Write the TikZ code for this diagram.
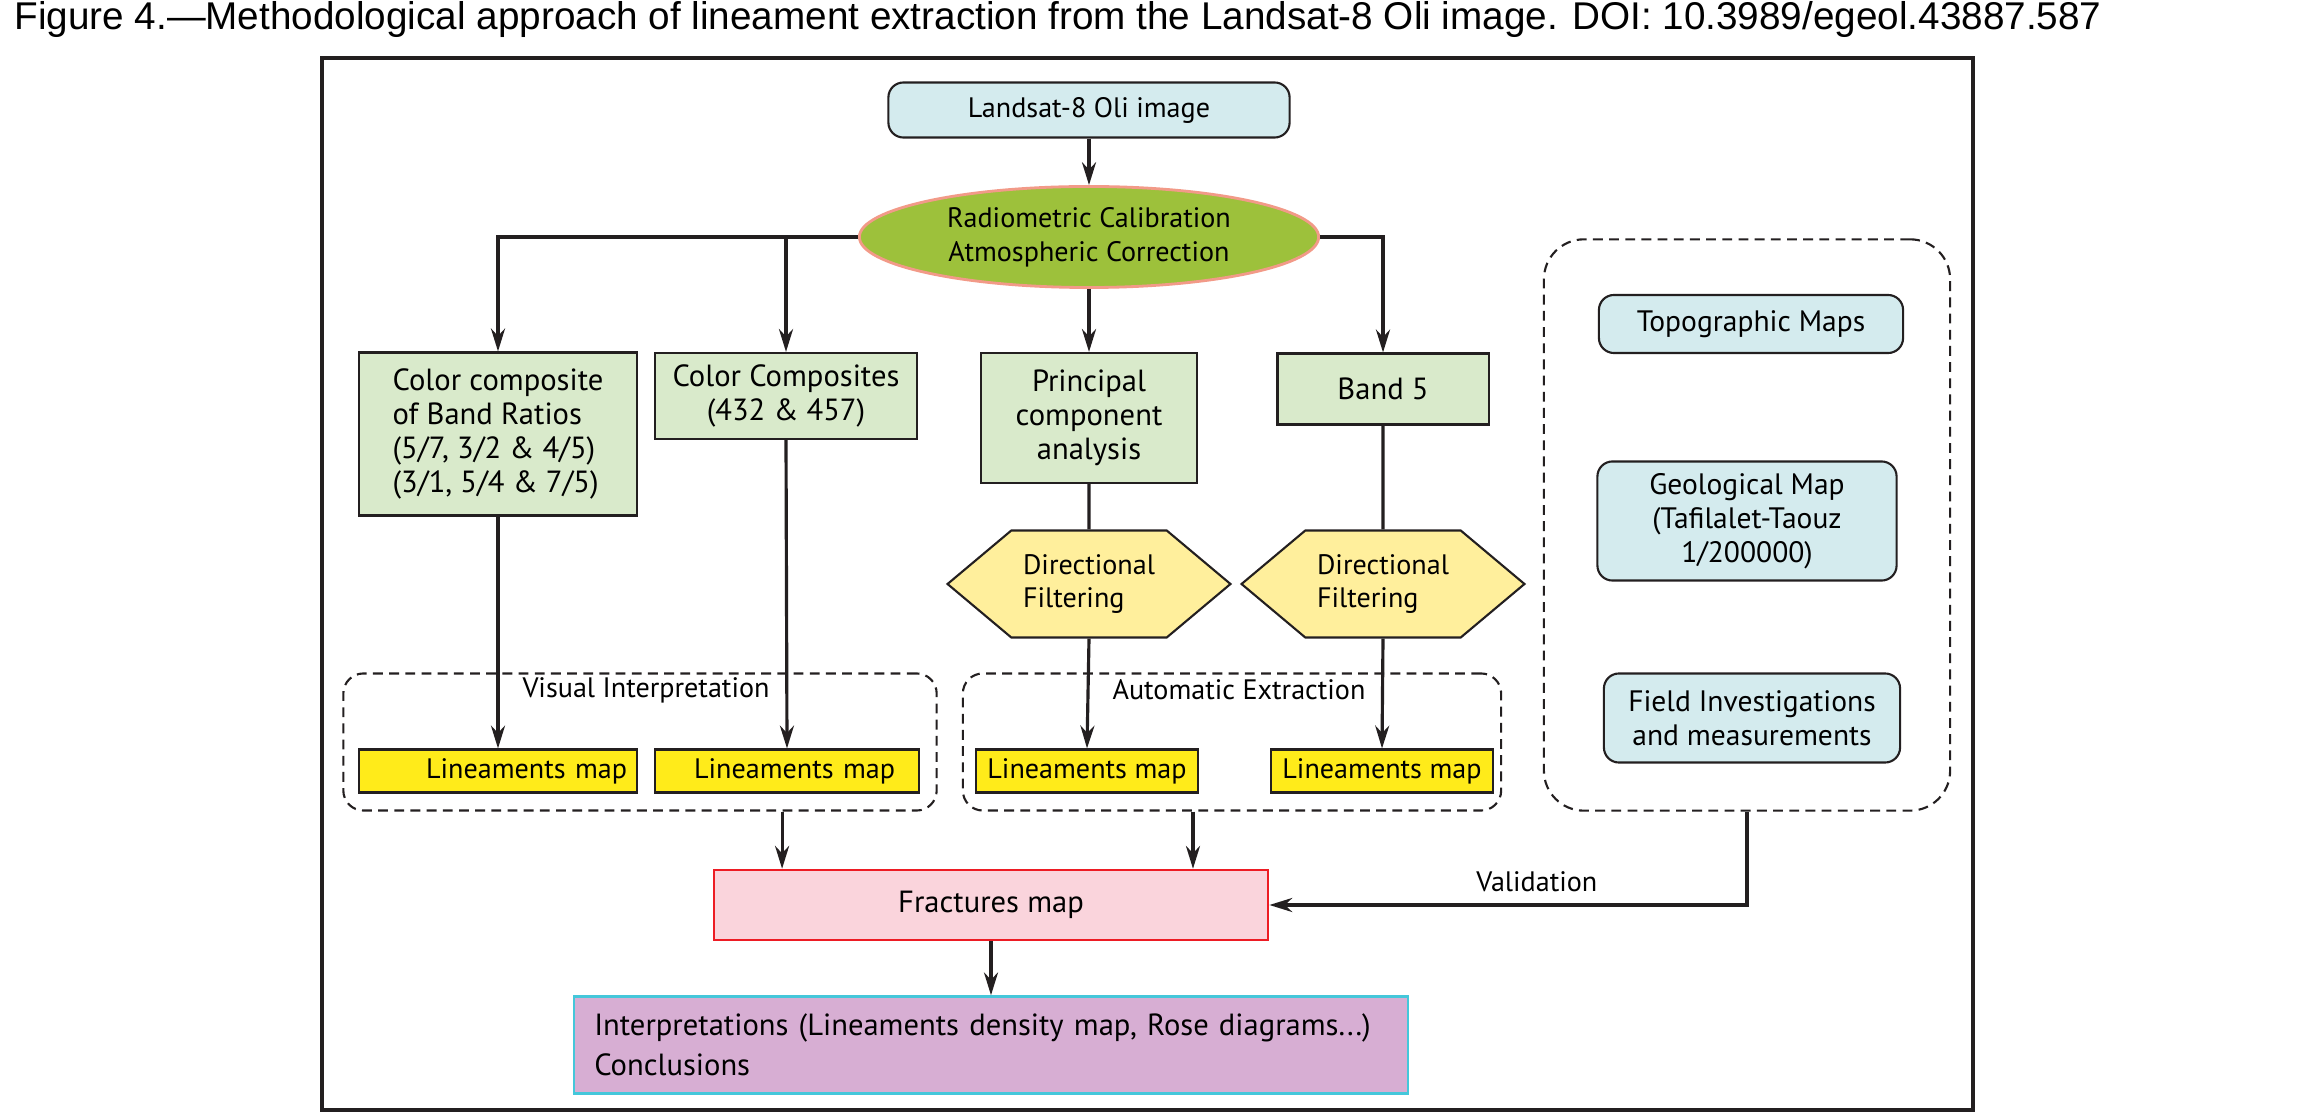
\documentclass[tikz,border=0pt]{standalone}
\usepackage{fontspec}
\setmainfont{PT Sans}
\newfontfamily\titlefont{Liberation Sans}
\usetikzlibrary{shapes.geometric,shapes.symbols,arrows.meta}

\definecolor{paleblue}{HTML}{D4EBEE}
\definecolor{calibgreen}{HTML}{9DC13B}
\definecolor{salmon}{HTML}{F29A88}
\definecolor{palegreen}{HTML}{D9EACB}
\definecolor{paleyellow}{HTML}{FFEF9C}
\definecolor{mapyellow}{HTML}{FFEB1A}
\definecolor{fracpink}{HTML}{FAD4DC}
\definecolor{fracred}{HTML}{ED1C24}
\definecolor{mauve}{HTML}{D7AED3}
\definecolor{cyanline}{HTML}{45C7DA}
\definecolor{inkgray}{HTML}{231F20}

\begin{document}
\begin{tikzpicture}[x=0.01cm, y=-0.01cm,
  every node/.style={font=\fontsize{8}{9.6}\selectfont, text=black},
  infobox/.style={draw=inkgray, line width=0.6pt, fill=paleblue, rounded corners=0.15cm, align=center},
  procbox/.style={draw=inkgray, line width=0.6pt, fill=palegreen, align=center, font=\fontsize{8.7}{9.6}\selectfont},
  filterbox/.style={shape=signal, signal to=east and west, signal pointer angle=80, draw=inkgray, line width=0.6pt, fill=paleyellow, align=left, minimum width=2.55cm, minimum height=1.07cm},
  mapbox/.style={draw=inkgray, line width=0.6pt, fill=mapyellow, minimum height=0.43cm, inner ysep=0pt},
  group/.style={draw=inkgray, line width=0.6pt, dash pattern=on 2.8pt off 1.8pt, rounded corners=0.2cm},
  arrow/.style={-{Stealth[length=6.5pt,width=4pt]}, line width=0.9pt, draw=inkgray},
  link/.style={line width=0.9pt, draw=inkgray}]
\useasboundingbox (0,0) rectangle (2324,1113);
% Title and frame
\node[anchor=base west, font=\titlefont\fontsize{11}{12}\selectfont] (title) at (2,30)
  {Figure 4.—Methodological approach of lineament extraction from the Landsat-8 Oli image. DOI: 10.3989/egeol.43887.587};
\draw[line width=1.1pt, draw=inkgray] (322,58) rectangle (1973,1110);
% Dashed groups
\node[group, minimum width=5.93cm, minimum height=1.37cm] (visual) at (640,742) {};
\node (visuallbl) at (646,690) {Visual Interpretation};
\node[group, minimum width=5.38cm, minimum height=1.37cm] (auto) at (1232,742) {};
\node (autolbl) at (1239,690) {Automatic Extraction};
\node[group, rounded corners=0.4cm, minimum width=4.06cm, minimum height=5.71cm] (refs) at (1747,525) {};
% Processing chain
\node[infobox, minimum width=4.01cm, minimum height=0.55cm] (landsat) at (1089,110) {Landsat-8 Oli image};
\node[ellipse, draw=salmon, line width=0.8pt, fill=calibgreen, align=center, inner sep=0pt,
  minimum width=4.59cm, minimum height=1.01cm] (calib) at (1089,237) {Radiometric Calibration\\Atmospheric Correction};
\node[procbox, align=left, minimum width=2.77cm, minimum height=1.63cm] (ratios) at (498,434)
  {Color composite\\of Band Ratios\\(5/7, 3/2 \& 4/5)\\(3/1, 5/4 \& 7/5)};
\node[procbox, minimum width=2.61cm, minimum height=0.86cm] (rgb) at (786,396) {Color Composites\\(432 \& 457)};
\node[procbox, minimum width=2.16cm, minimum height=1.30cm] (pca) at (1089,418) {Principal\\component\\analysis};
\node[procbox, minimum width=2.11cm, minimum height=0.71cm] (band) at (1383,389) {Band 5};
\node[filterbox] (filtA) at (1089,584) {Directional\\Filtering};
\node[filterbox] (filtB) at (1383,584) {Directional\\Filtering};
% Lineament maps
\node[mapbox, text width=2.58cm, inner xsep=0.1cm, align=right] (mapA) at (498,771) {Lineaments map};
\node[mapbox, text width=2.16cm, inner xsep=0.24cm, align=right] (mapB) at (787,771) {Lineaments map};
\node[mapbox, minimum width=2.13cm] (mapC) at (1087,771) {Lineaments map};
\node[mapbox, minimum width=2.12cm] (mapD) at (1382,771) {Lineaments map};
% Ancillary data
\node[infobox, minimum width=3.04cm, minimum height=0.58cm, font=\fontsize{8.4}{9.6}\selectfont] (topo) at (1751,324) {Topographic Maps};
\node[infobox, minimum width=2.99cm, minimum height=1.19cm, font=\fontsize{8.4}{9.6}\selectfont] (geo) at (1747,521) {Geological Map\\(Tafilalet-Taouz\\1/200000)};
\node[infobox, minimum width=2.96cm, minimum height=0.89cm, font=\fontsize{8.4}{9.6}\selectfont] (field) at (1752,718) {Field Investigations\\and measurements};
% Results
\node[draw=fracred, line width=0.7pt, fill=fracpink, minimum width=5.54cm, minimum height=0.70cm,
  font=\fontsize{8.7}{10}\selectfont] (frac) at (991,905) {Fractures map};
\node[draw=cyanline, line width=0.7pt, fill=mauve, align=left, text width=7.93cm, inner xsep=0.2cm,
  minimum height=0.97cm, font=\fontsize{8.7}{11.5}\selectfont] (interp) at (991,1045) {Interpretations (Lineaments density map, Rose diagrams...)\\Conclusions};
% Connectors
\draw[arrow] (landsat) -- (calib);
\draw[arrow] (calib.west) -| (ratios.north);
\draw[arrow] (calib.west) -| (rgb.north);
\draw[arrow] (calib) -- (pca);
\draw[arrow] (calib.east) -| (band.north);
\draw[arrow] (ratios.south) -- (mapA.north);
\draw[arrow] (rgb.south) -- (mapB.north);
\draw[link] (pca) -- (filtA);
\draw[arrow] (filtA.south) -- (mapC.north);
\draw[link] (band) -- (filtB);
\draw[arrow] (filtB.south) -- (mapD.north);
\draw[arrow] ([xshift=1.42cm]visual.south) -- ([xshift=1.42cm]visual.south |- frac.north);
\draw[arrow] ([xshift=-0.39cm]auto.south) -- ([xshift=-0.39cm]auto.south |- frac.north);
\draw[arrow] (refs.south) |- (frac.east) node[pos=0.72, above] {Validation};
\draw[arrow] (frac) -- (interp);
\end{tikzpicture}
\end{document}
